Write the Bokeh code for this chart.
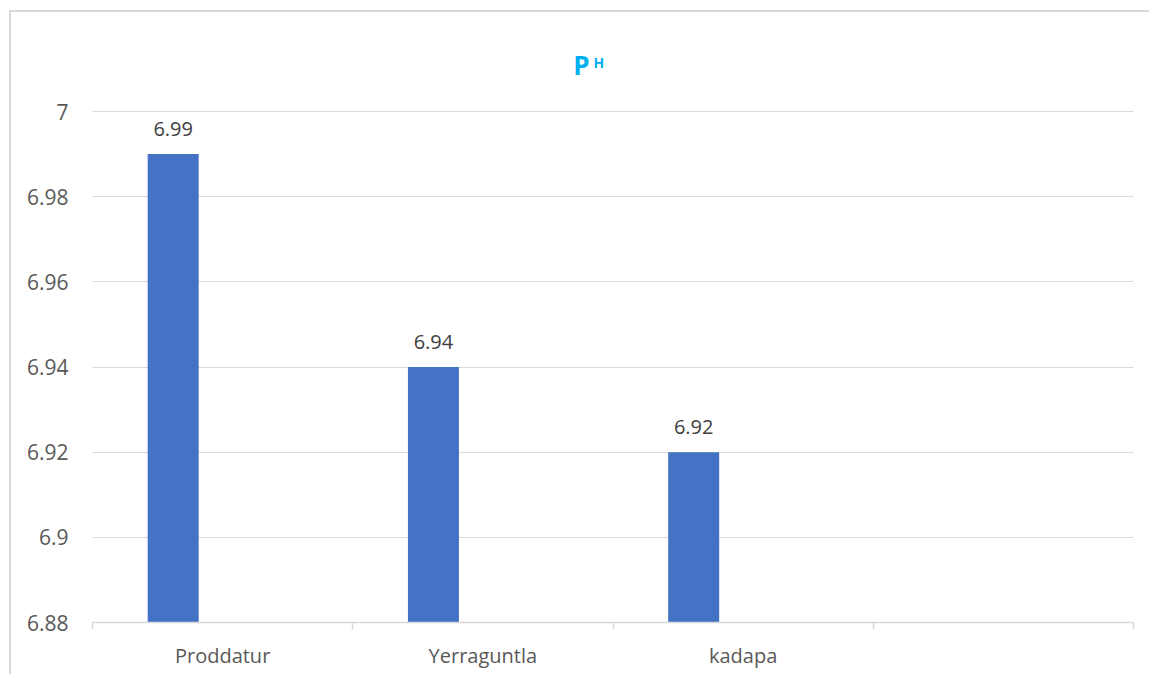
from bokeh.plotting import figure
from bokeh.models import (ColumnDataSource, Range1d, FixedTicker, CustomJSTickFormatter,
                          LabelSet, Label)
from bokeh.core.properties import value
from bokeh.embed import file_html
from bokeh.resources import INLINE

# ---- data ----
categories = ["Proddatur", "Yerraguntla", "kadapa", ""]
ph_values = [6.99, 6.94, 6.92]
y_ticks = [6.88, 6.90, 6.92, 6.94, 6.96, 6.98, 7.00]
title_main = "P"
title_sup = "H"

Y0, Y1 = 6.88, 7.0
FONT = "Open Sans"
TXT = "#595959"
GRID = "#D9D9D9"

# layout (pixels)
W, H = 1140, 664
B_LEFT, B_RIGHT, B_BOTTOM = 81, 18, 54
AXIS_TOP = 99          # pixel row of the top tick (7) inside the figure
FRAME_TOP = 26         # frame extends above the top tick to hold the title
axis_px = H - B_BOTTOM - AXIS_TOP
frame_px = H - B_BOTTOM - FRAME_TOP
y_end = Y0 + (Y1 - Y0) * frame_px / axis_px

n_slots = len(categories)
bar_x = [i + 0.31 for i in range(len(ph_values))]
src = ColumnDataSource(dict(x=bar_x, top=ph_values,
                            lab=[f"{v:.2f}" for v in ph_values]))

p = figure(width=W, height=H, output_backend="svg", toolbar_location=None,
           x_range=Range1d(0, n_slots), y_range=Range1d(Y0, y_end),
           min_border_left=B_LEFT, min_border_right=B_RIGHT, min_border_top=FRAME_TOP,
           min_border_bottom=B_BOTTOM)
p.margin = (10, 0, 0, 9)
p.styles = {"border-left": "2px solid #D9D9D9", "border-top": "2px solid #D9D9D9"}
p.outline_line_color = None
p.background_fill_color = "white"
p.border_fill_color = "white"

p.vbar(x="x", top="top", bottom=Y0, width=0.196, source=src,
       fill_color="#4472C4", line_color=None)

p.add_layout(LabelSet(x="x", y="top", text="lab", source=src, text_align="center",
                      text_baseline="bottom", y_offset=18, text_font=value(FONT),
                      text_font_size=value("20px"), text_color=value("#404040")))

# x axis
p.xaxis.ticker = FixedTicker(ticks=[i + 0.5 for i in range(n_slots)],
                             minor_ticks=list(range(n_slots + 1)))
p.xaxis.major_label_overrides = {i + 0.5: c for i, c in enumerate(categories)}
p.xaxis.major_tick_line_color = None
p.xaxis.major_tick_out = 0
p.xaxis.major_tick_in = 0
p.xaxis.minor_tick_line_color = GRID
p.xaxis.minor_tick_line_width = 1.5
p.xaxis.minor_tick_out = 7
p.xaxis.minor_tick_in = 0
p.xaxis.axis_line_color = GRID
p.xaxis.axis_line_width = 1.5
p.xaxis.major_label_text_font = FONT
p.xaxis.major_label_text_font_size = "20px"
p.xaxis.major_label_text_color = TXT
p.xaxis.major_label_standoff = 12
p.xgrid.grid_line_color = None

# y axis
p.yaxis.ticker = FixedTicker(ticks=y_ticks)
p.yaxis.formatter = CustomJSTickFormatter(
    code="return tick.toFixed(2).replace(/0+$/, '').replace(/\\.$/, '');")
p.yaxis.axis_line_color = None
p.yaxis.major_tick_line_color = None
p.yaxis.minor_tick_line_color = None
p.yaxis.major_tick_out = 0
p.yaxis.major_label_standoff = 24
p.yaxis.major_label_text_font = FONT
p.yaxis.major_label_text_font_size = "21px"
p.yaxis.major_label_text_color = TXT
p.ygrid.grid_line_color = GRID
p.ygrid.grid_line_width = 1.2

# title (P with superscript H), placed above the top tick
p.add_layout(Label(x=489, y=Y1, x_units="screen", y_offset=47, text=title_main,
                   text_align="center", text_baseline="alphabetic", text_font=FONT,
                   text_font_size="26px", text_font_style="bold", text_color="#00B0F0"))
p.add_layout(Label(x=501, y=Y1, x_units="screen", y_offset=49, text=title_sup,
                   text_align="left", text_baseline="alphabetic", text_font=FONT,
                   text_font_size="14px", text_font_style="bold", text_color="#00B0F0"))

open("out.html", "w").write(file_html(p, INLINE))
